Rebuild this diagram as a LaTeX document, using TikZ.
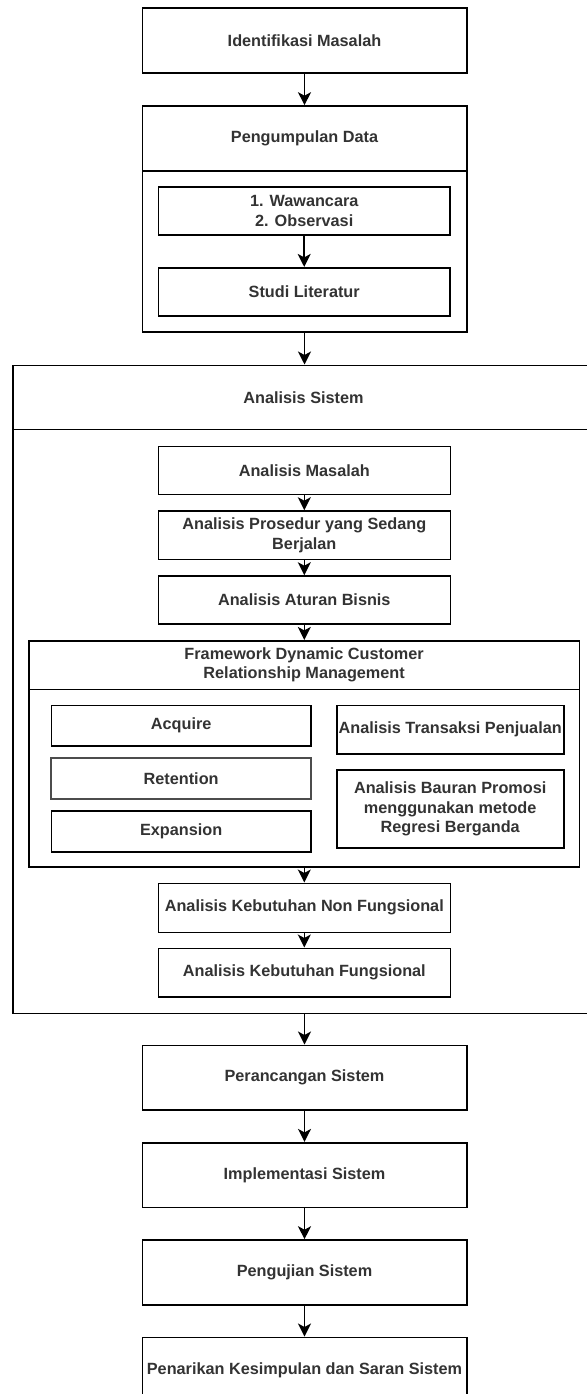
\documentclass[tikz,border=0pt]{standalone}
\usepackage{fontspec}
\setmainfont{Liberation Sans}
\usetikzlibrary{arrows.meta}
\begin{document}
\begin{tikzpicture}[x=1pt,y=-1pt,
  box/.style={draw=black, line width=1.6pt, fill=white, inner sep=0pt, align=center,
    font=\bfseries\fontsize{16.25}{19.5}\selectfont, text=black!80},
  lbl/.style={inner sep=0pt, align=center,
    font=\bfseries\fontsize{16.25}{19.5}\selectfont, text=black!80},
  divline/.style={line width=1.6pt},
  arr/.style={line width=1.6pt, -{Stealth[length=13pt,width=13pt,inset=3.5pt]}},
]
\useasboundingbox (0,0) rectangle (586,1394);
\fill[white] (0,0) rectangle (586,1394);

% top
\node[box, minimum width=324.4pt, minimum height=65pt] (ident) at (304.5,40.8) {Identifikasi Masalah};

% Pengumpulan Data container
\node[box, minimum width=324.4pt, minimum height=225.7pt] (peng) at (304.5,218.85) {};
\draw[divline] (142.3,171) -- (466.7,171);
\node[lbl] (pengh) at (304.5,138.5) {Pengumpulan Data};
\node[box, minimum width=291.7pt, minimum height=48.3pt] (waw) at (304.2,210.85) {1. Wawancara\\2. Observasi};
\node[box, minimum width=291.7pt, minimum height=48.3pt] (studi) at (304.2,291.85) {Studi Literatur};

% Analisis Sistem container
\node[box, minimum width=582.3pt, minimum height=648pt] (ana) at (303.85,689.3) {};
\draw[divline] (12.7,429.3) -- (596,429.3);
\node[lbl] (anah) at (303.5,397.3) {Analisis Sistem};

\node[box, minimum width=292pt, minimum height=48pt] (masalah) at (304.3,470.3) {Analisis Masalah};
\node[box, minimum width=292pt, minimum height=48.3pt] (prosedur) at (304.3,535.15) {Analisis Prosedur yang Sedang\\Berjalan};
\node[box, minimum width=292pt, minimum height=48pt] (aturan) at (304.3,600) {Analisis Aturan Bisnis};

% Framework container
\node[box, minimum width=550.3pt, minimum height=226pt] (frame) at (304.15,753.7) {};
\draw[divline] (29,689.3) -- (579.3,689.3);
\node[lbl] (frameh) at (304.15,665) {Framework Dynamic Customer\\Relationship Management};

\node[box, minimum width=259.7pt, minimum height=40.7pt] (acq) at (181.15,725.65) {Acquire};
\node[box, draw=black!70, line width=2pt, minimum width=259.7pt, minimum height=41.3pt] (ret) at (181.15,778.35) {Retention};
\node[box, minimum width=259.7pt, minimum height=41pt] (exp) at (181.15,831.2) {Expansion};
\node[box, minimum width=227pt, minimum height=48.7pt] (trans) at (450.2,729.65) {Analisis Transaksi Penjualan};
\node[box, minimum width=227pt, minimum height=77.7pt] (baur) at (450.2,808.85) {Analisis Bauran Promosi\\menggunakan metode\\Regresi Berganda};

\node[box, minimum width=292pt, minimum height=49pt] (nonf) at (304.3,907.8) {Analisis Kebutuhan Non Fungsional};
\node[box, minimum width=292pt, minimum height=48.4pt] (fungs) at (304.3,972.5) {Analisis Kebutuhan Fungsional};

% bottom chain
\node[box, minimum width=324.4pt, minimum height=64.7pt] (peranc) at (304.5,1077.65) {Perancangan Sistem};
\node[box, minimum width=324.4pt, minimum height=64.6pt] (impl) at (304.5,1175) {Implementasi Sistem};
\node[box, minimum width=324.4pt, minimum height=65pt] (uji) at (304.5,1272.5) {Pengujian Sistem};
\node[box, minimum width=324.4pt, minimum height=65pt] (tarik) at (304.5,1369.8) {Penarikan Kesimpulan dan Saran Sistem};

% connectors
\draw[arr] (ident.south) -- (ident.south |- peng.north);
\draw[arr] (waw.south) -- (waw.south |- studi.north);
\draw[arr] (peng.south) -- (peng.south |- ana.north);
\draw[arr] (masalah.south) -- (masalah.south |- prosedur.north);
\draw[arr] (prosedur.south) -- (prosedur.south |- aturan.north);
\draw[arr] (aturan.south) -- (aturan.south |- frame.north);
\draw[arr] (aturan.south |- frame.south) -- (nonf.north);
\draw[arr] (nonf.south) -- (nonf.south |- fungs.north);
\draw[arr] (peranc.north |- ana.south) -- (peranc.north);
\draw[arr] (peranc.south) -- (peranc.south |- impl.north);
\draw[arr] (impl.south) -- (impl.south |- uji.north);
\draw[arr] (uji.south) -- (uji.south |- tarik.north);
\end{tikzpicture}
\end{document}
